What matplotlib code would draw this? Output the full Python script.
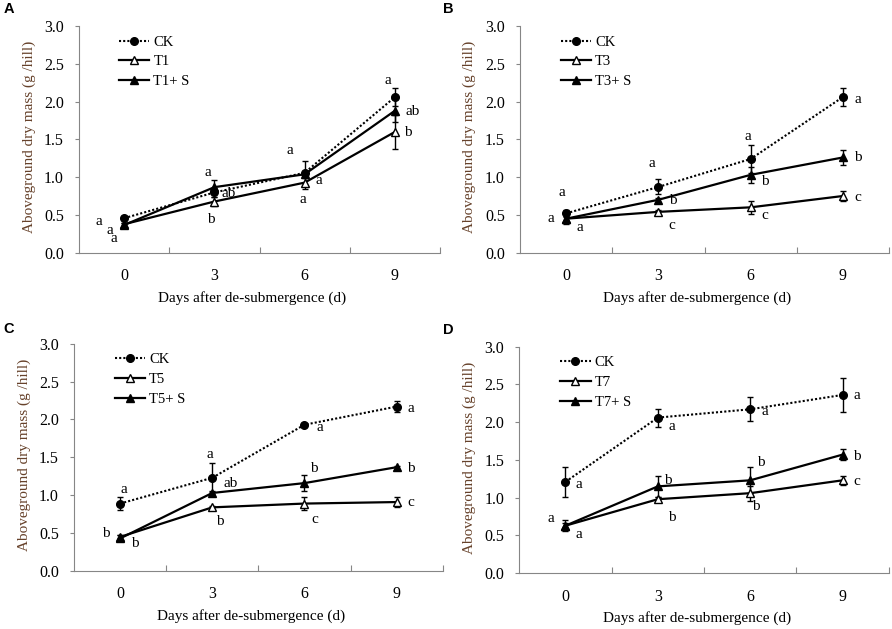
import matplotlib
matplotlib.use('Agg')
import matplotlib.pyplot as plt
from matplotlib.ticker import FixedLocator, FormatStrFormatter

plt.rcParams['font.family'] = ['Liberation Serif', 'DejaVu Serif']

days = [0, 3, 6, 9]
day_labels = ['0', '3', '6', '9']

# panel A
ck_a = [0.46, 0.80, 1.06, 2.06]
ck_a_err = [0.03, 0.06, 0.16, 0.12]
t1 = [0.38, 0.68, 0.93, 1.60]
t1_err = [0.02, 0.06, 0.08, 0.22]
t1s = [0.37, 0.87, 1.04, 1.88]
t1s_err = [0.03, 0.09, 0.05, 0.15]

# panel B
ck_b = [0.52, 0.87, 1.24, 2.06]
ck_b_err = [0.05, 0.10, 0.18, 0.12]
t3 = [0.45, 0.54, 0.60, 0.75]
t3_err = [0.04, 0.03, 0.09, 0.07]
t3s = [0.45, 0.70, 1.03, 1.26]
t3s_err = [0.07, 0.03, 0.11, 0.10]

# panel C
ck_c = [0.89, 1.23, 1.93, 2.17]
ck_c_err = [0.09, 0.19, 0.02, 0.07]
t5 = [0.45, 0.84, 0.89, 0.91]
t5_err = [0.03, 0.02, 0.09, 0.07]
t5s = [0.43, 1.03, 1.16, 1.37]
t5s_err = [0.04, 0.02, 0.11, 0.02]

# panel D
ck_d = [1.21, 2.06, 2.17, 2.36]
ck_d_err = [0.20, 0.12, 0.16, 0.22]
t7 = [0.63, 0.98, 1.06, 1.23]
t7_err = [0.04, 0.03, 0.10, 0.06]
t7s = [0.63, 1.15, 1.23, 1.57]
t7s_err = [0.07, 0.14, 0.17, 0.07]

# significance letters (x in days, y in g/hill)
letters_a = [(-0.83, 0.42, 'a'), (-0.48, 0.30, 'a'), (-0.33, 0.19, 'a'),
             (2.78, 1.07, 'a'), (3.47, 0.79, 'ab'), (2.89, 0.44, 'b'),
             (5.52, 1.35, 'a'), (6.47, 0.96, 'a'), (5.94, 0.71, 'a'),
             (8.78, 2.28, 'a'), (9.60, 1.87, 'ab'), (9.43, 1.59, 'b')]
letters_b = [(-0.14, 0.79, 'a'), (-0.49, 0.45, 'a'), (0.44, 0.33, 'a'),
             (2.80, 1.18, 'a'), (3.48, 0.69, 'b'), (3.45, 0.36, 'c'),
             (5.92, 1.54, 'a'), (6.46, 0.94, 'b'), (6.46, 0.49, 'c'),
             (9.49, 2.03, 'a'), (9.47, 1.26, 'b'), (9.49, 0.73, 'c')]
letters_c = [(0.12, 1.08, 'a'), (-0.48, 0.49, 'b'), (0.49, 0.36, 'b'),
             (2.93, 1.54, 'a'), (3.59, 1.16, 'ab'), (3.25, 0.65, 'b'),
             (6.49, 1.90, 'a'), (6.30, 1.35, 'b'), (6.34, 0.68, 'c'),
             (9.45, 2.15, 'a'), (9.45, 1.35, 'b'), (9.45, 0.90, 'c')]
letters_d = [(0.43, 1.18, 'a'), (-0.48, 0.72, 'a'), (0.43, 0.51, 'a'),
             (3.45, 1.94, 'a'), (3.34, 1.23, 'b'), (3.46, 0.74, 'b'),
             (6.47, 2.14, 'a'), (6.34, 1.47, 'b'), (6.17, 0.89, 'b'),
             (9.48, 2.35, 'a'), (9.46, 1.55, 'b'), (9.48, 1.21, 'c')]

panels = [
    ('A', [0.0886, 0.5978, 0.4047, 0.3609], ck_a, ck_a_err, 'T1', t1, t1_err, 'T1+ S', t1s, t1s_err, letters_a),
    ('B', [0.5830, 0.5983, 0.4137, 0.3604], ck_b, ck_b_err, 'T3', t3, t3_err, 'T3+ S', t3s, t3s_err, letters_b),
    ('C', [0.0830, 0.0922, 0.4133, 0.3614], ck_c, ck_c_err, 'T5', t5, t5_err, 'T5+ S', t5s, t5s_err, letters_c),
    ('D', [0.5822, 0.0886, 0.4141, 0.3604], ck_d, ck_d_err, 'T7', t7, t7_err, 'T7+ S', t7s, t7s_err, letters_d),
]
panel_label_pos = {'A': (0.0095, 0.985), 'B': (0.5025, 0.985), 'C': (0.0095, 0.477), 'D': (0.5025, 0.475)}

grey = '#868686'
fig = plt.figure(figsize=(8.92, 6.29), dpi=100)

for name, rect, ck, ck_err, tname, t, t_err, sname, s, s_err, letters in panels:
    ax = fig.add_axes(rect)
    ax.errorbar(days, ck, yerr=ck_err, fmt='none', ecolor='black', elinewidth=1, capsize=2.5, zorder=2)
    ax.errorbar(days, t, yerr=t_err, fmt='none', ecolor='black', elinewidth=1, capsize=2.5, zorder=2)
    ax.errorbar(days, s, yerr=s_err, fmt='none', ecolor='black', elinewidth=1, capsize=2.5, zorder=2)
    ax.plot(days, ck, color='black', linestyle=(0, (1, 1)), linewidth=1.5,
            marker='o', markersize=5.5, markerfacecolor='black', label='CK', zorder=3)
    ax.plot(days, t, color='black', linestyle='-', linewidth=1.6,
            marker='^', markersize=5.5, markerfacecolor='white', markeredgecolor='black', label=tname, zorder=3)
    ax.plot(days, s, color='black', linestyle='-', linewidth=1.6,
            marker='^', markersize=5.5, markerfacecolor='black', label=sname, zorder=4)

    for x, y, txt in letters:
        ax.text(x, y, txt, ha='center', va='center', fontsize=11)

    ax.set_xlim(-1.5, 10.5)
    ax.set_ylim(0, 3.0)
    ax.spines['top'].set_visible(False)
    ax.spines['right'].set_visible(False)
    ax.spines['left'].set_color(grey)
    ax.spines['bottom'].set_color(grey)

    ax.xaxis.set_major_locator(FixedLocator([1.5, 4.5, 7.5, 10.5]))
    ax.xaxis.set_minor_locator(FixedLocator(days))
    ax.set_xticklabels([], minor=False)
    ax.set_xticklabels(day_labels, minor=True)
    ax.tick_params(axis='x', which='major', direction='in', length=4, color=grey)
    ax.tick_params(axis='x', which='minor', length=0, pad=11, labelsize=11.5)
    ax.set_yticks([0, 0.5, 1.0, 1.5, 2.0, 2.5, 3.0])
    ax.yaxis.set_major_formatter(FormatStrFormatter('%.1f'))
    ax.tick_params(axis='y', direction='out', length=3, color=grey, pad=8, labelsize=11.5)

    ax.set_xlabel('Days after de-submergence (d)', fontsize=11)
    ax.set_ylabel('Aboveground dry mass (g /hill)', fontsize=11, color='#66412a')
    ax.xaxis.set_label_coords(0.48, -0.168)
    ax.yaxis.set_label_coords(-0.118, 0.51)

    ax.legend(loc='upper left', bbox_to_anchor=(0.11, 0.958), frameon=False, fontsize=10.5,
              handlelength=2.1, handletextpad=0.27, labelspacing=0.45, borderpad=0, borderaxespad=0)

    fig.text(panel_label_pos[name][0], panel_label_pos[name][1], name, family='Liberation Sans',
             fontweight='bold', fontsize=10.5, ha='center', va='center')

plt.savefig('out.png', dpi=100)
